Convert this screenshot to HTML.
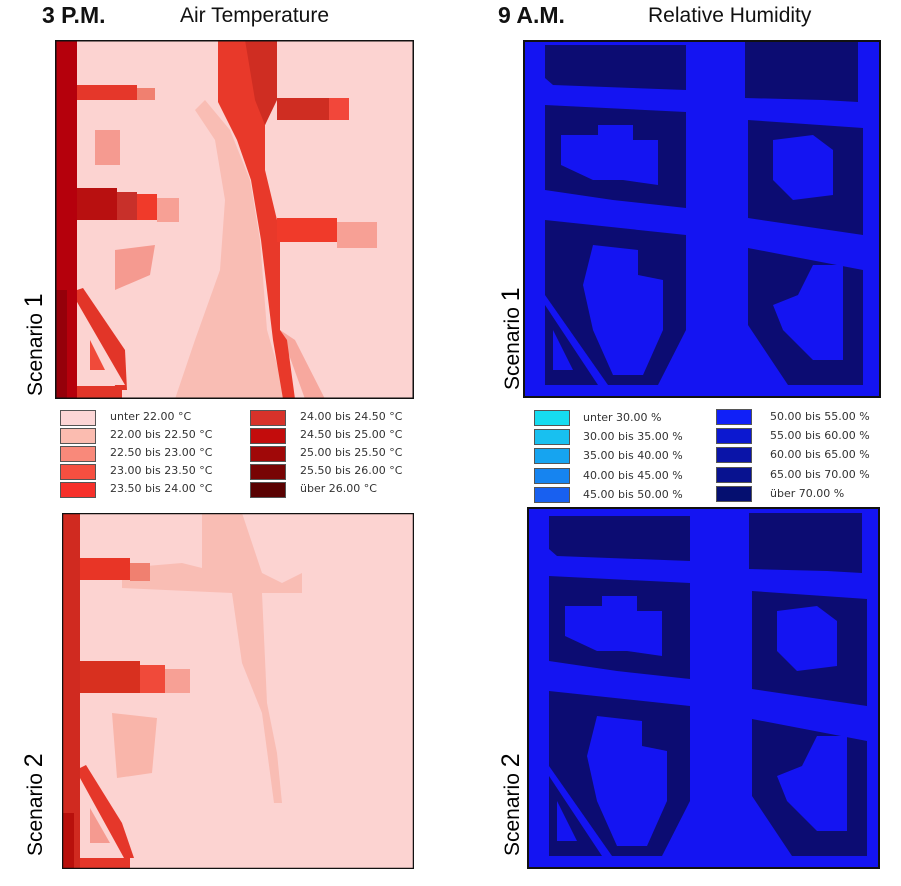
<!DOCTYPE html>
<html><head><style>
body{margin:0;background:#fff;width:901px;height:886px;position:relative;overflow:hidden;font-family:"Liberation Sans","DejaVu Sans",sans-serif}
.t{position:absolute;font-size:21px;color:#111}
.b{font-weight:bold;font-size:23px}
.v{position:absolute;font-size:21px;transform:rotate(-90deg);transform-origin:left top;white-space:nowrap}
.lg{position:absolute;font-size:11px;color:#333;font-family:"DejaVu Sans",sans-serif}
.sw{position:absolute;width:34px;height:14px;border:1px solid #555}
</style></head><body>
<div class="t b" style="left:42px;top:2px">3 P.M.</div>
<div class="t" style="left:180px;top:4px">Air Temperature</div>
<div class="t b" style="left:498px;top:2px">9 A.M.</div>
<div class="t" style="left:648px;top:4px">Relative Humidity</div>
<div class="v" style="left:20px;top:396px">Scenario <span style="font-size:25px">1</span></div>
<div class="v" style="left:20px;top:856px">Scenario <span style="font-size:25px">2</span></div>
<div class="v" style="left:497px;top:390px">Scenario <span style="font-size:25px">1</span></div>
<div class="v" style="left:497px;top:856px">Scenario <span style="font-size:25px">2</span></div>

<svg style="position:absolute;left:55px;top:40px" width="359" height="359">
<rect width="359" height="359" fill="#fcd3d1"/>
<polygon points="150,60 175,90 195,140 205,200 212,290 232,359 120,359 140,300 165,230 170,160 160,100 140,70" fill="#f9bdb4"/>
<polygon points="225,290 250,359 270,359 240,300" fill="#f7a89e"/>
<polygon points="163,0 222,0 222,58 210,85 210,130 222,180 225,200 225,290 232,300 240,359 228,359 218,300 206,200 196,140 182,100 163,62" fill="#e8392a"/>
<polygon points="190,0 222,0 222,60 210,85 200,60" fill="#cf2d22"/>
<rect x="222" y="58" width="52" height="22" fill="#cf2d22"/>
<rect x="274" y="58" width="20" height="22" fill="#f2473a"/>
<rect x="222" y="178" width="60" height="24" fill="#f03a2a"/>
<rect x="282" y="182" width="40" height="26" fill="#f7a095"/>
<rect x="22" y="45" width="60" height="15" fill="#e5372a"/>
<rect x="82" y="48" width="18" height="12" fill="#f08070"/>
<rect x="22" y="148" width="40" height="32" fill="#b81010"/>
<rect x="62" y="152" width="20" height="28" fill="#c8302a"/>
<rect x="82" y="154" width="20" height="26" fill="#f03a2a"/>
<rect x="102" y="158" width="22" height="24" fill="#f7a095"/>
<rect x="40" y="90" width="25" height="35" fill="#f59a90"/>
<polygon points="60,210 100,205 95,235 60,250" fill="#f59a90"/>
<rect x="0" y="0" width="22" height="359" fill="#b5000c"/>
<rect x="0" y="250" width="12" height="109" fill="#95000a"/>
<polygon points="22,250 28,248 70,310 72,350 62,350 22,262" fill="#e23528"/>
<polygon points="22,262 22,345 70,345" fill="#fcd3d1"/>
<polygon points="35,300 35,330 50,330" fill="#f04a3a"/>
<rect x="22" y="346" width="45" height="13" fill="#e23528"/>
<rect x="0.5" y="0.5" width="358" height="358" fill="none" stroke="#111" stroke-width="2"/>
</svg>

<svg style="position:absolute;left:62px;top:513px" width="352" height="356">
<rect width="352" height="356" fill="#fcd3d1"/>
<polygon points="140,0 180,0 200,60 220,70 240,60 240,80 200,80 205,190 215,240 220,290 212,290 200,200 180,150 170,80 60,75 60,55 120,50 140,55" fill="#f9bdb4"/>
<rect x="18" y="45" width="50" height="22" fill="#e83526"/>
<rect x="68" y="50" width="20" height="18" fill="#f08070"/>
<rect x="18" y="148" width="60" height="32" fill="#d8301f"/>
<rect x="78" y="152" width="25" height="28" fill="#f04a3a"/>
<rect x="103" y="156" width="25" height="24" fill="#f7a095"/>
<polygon points="50,200 95,205 90,260 55,265" fill="#f9b5aa"/>
<rect x="0" y="0" width="18" height="356" fill="#d02a20"/>
<rect x="0" y="300" width="12" height="56" fill="#b8100c"/>
<polygon points="18,255 24,252 60,310 72,345 62,345 18,265" fill="#e5372a"/>
<polygon points="28,295 28,330 48,330" fill="#f59a90"/>
<rect x="18" y="345" width="50" height="11" fill="#e5372a"/>
<rect x="0.5" y="0.5" width="351" height="355" fill="none" stroke="#111" stroke-width="1.5"/>
</svg>

<svg width="0" height="0" style="position:absolute">
<defs>
<g id="blk">
<g fill="#0c0c72">
<polygon points="22,5 163,5 163,50 30,45 22,38"/>
<polygon points="22,65 163,72 163,168 90,160 22,150"/>
<polygon points="222,2 335,2 335,62 300,60 222,58"/>
<polygon points="225,80 340,88 340,195 225,178"/>
<polygon points="22,180 163,195 163,290 135,345 85,345 22,255"/>
<polygon points="22,265 75,345 22,345"/>
<polygon points="225,208 340,230 340,345 265,345 225,285"/>
</g>
<g fill="#1414f2">
<polygon points="38,95 75,95 75,85 110,85 110,100 135,100 135,145 100,140 70,140 38,125"/>
<polygon points="250,100 290,95 310,110 310,155 270,160 250,140"/>
<polygon points="70,205 115,210 115,235 140,240 140,290 120,335 90,335 70,290 60,245"/>
<polygon points="290,225 320,225 320,320 290,320 260,290 250,265 275,255"/>
<polygon points="30,290 30,330 50,330"/>
</g>
</g>
</defs>
</svg>

<svg style="position:absolute;left:523px;top:40px" width="358" height="358">
<rect width="358" height="358" fill="#1414f2"/>
<use href="#blk"/>
<rect x="1" y="1" width="356" height="356" fill="none" stroke="#111" stroke-width="2"/>
</svg>

<svg style="position:absolute;left:527px;top:507px" width="353" height="362">
<rect width="353" height="362" fill="#1414f2"/>
<g transform="translate(0,4)"><use href="#blk"/></g>
<rect x="1" y="1" width="351" height="360" fill="none" stroke="#111" stroke-width="2"/>
</svg>

<div class="sw" style="left:60px;top:410px;background:#fcd6d6"></div><div class="lg" style="left:110px;top:410px">unter 22.00 °C</div>
<div class="sw" style="left:60px;top:428px;background:#fbbcb0"></div><div class="lg" style="left:110px;top:428px">22.00 bis 22.50 °C</div>
<div class="sw" style="left:60px;top:446px;background:#f9897a"></div><div class="lg" style="left:110px;top:446px">22.50 bis 23.00 °C</div>
<div class="sw" style="left:60px;top:464px;background:#f64f40"></div><div class="lg" style="left:110px;top:464px">23.00 bis 23.50 °C</div>
<div class="sw" style="left:60px;top:482px;background:#f6302a"></div><div class="lg" style="left:110px;top:482px">23.50 bis 24.00 °C</div>
<div class="sw" style="left:250px;top:410px;background:#d8322a"></div><div class="lg" style="left:300px;top:410px">24.00 bis 24.50 °C</div>
<div class="sw" style="left:250px;top:428px;background:#c30c0c"></div><div class="lg" style="left:300px;top:428px">24.50 bis 25.00 °C</div>
<div class="sw" style="left:250px;top:446px;background:#a00808"></div><div class="lg" style="left:300px;top:446px">25.00 bis 25.50 °C</div>
<div class="sw" style="left:250px;top:464px;background:#780404"></div><div class="lg" style="left:300px;top:464px">25.50 bis 26.00 °C</div>
<div class="sw" style="left:250px;top:482px;background:#5a0202"></div><div class="lg" style="left:300px;top:482px">über 26.00 °C</div>

<div class="sw" style="left:534px;top:410px;background:#16dcf0"></div><div class="lg" style="left:583px;top:411px">unter 30.00 %</div>
<div class="sw" style="left:534px;top:429px;background:#18c0f0"></div><div class="lg" style="left:583px;top:430px">30.00 bis 35.00 %</div>
<div class="sw" style="left:534px;top:448px;background:#16a4f0"></div><div class="lg" style="left:583px;top:449px">35.00 bis 40.00 %</div>
<div class="sw" style="left:534px;top:468px;background:#1684f0"></div><div class="lg" style="left:583px;top:469px">40.00 bis 45.00 %</div>
<div class="sw" style="left:534px;top:487px;background:#1860f0"></div><div class="lg" style="left:583px;top:488px">45.00 bis 50.00 %</div>
<div class="sw" style="left:716px;top:409px;background:#1020f8"></div><div class="lg" style="left:770px;top:410px">50.00 bis 55.00 %</div>
<div class="sw" style="left:716px;top:428px;background:#0c18d0"></div><div class="lg" style="left:770px;top:429px">55.00 bis 60.00 %</div>
<div class="sw" style="left:716px;top:447px;background:#0a14a8"></div><div class="lg" style="left:770px;top:448px">60.00 bis 65.00 %</div>
<div class="sw" style="left:716px;top:467px;background:#081290"></div><div class="lg" style="left:770px;top:468px">65.00 bis 70.00 %</div>
<div class="sw" style="left:716px;top:486px;background:#050f70"></div><div class="lg" style="left:770px;top:487px">über 70.00 %</div>
</body></html>
